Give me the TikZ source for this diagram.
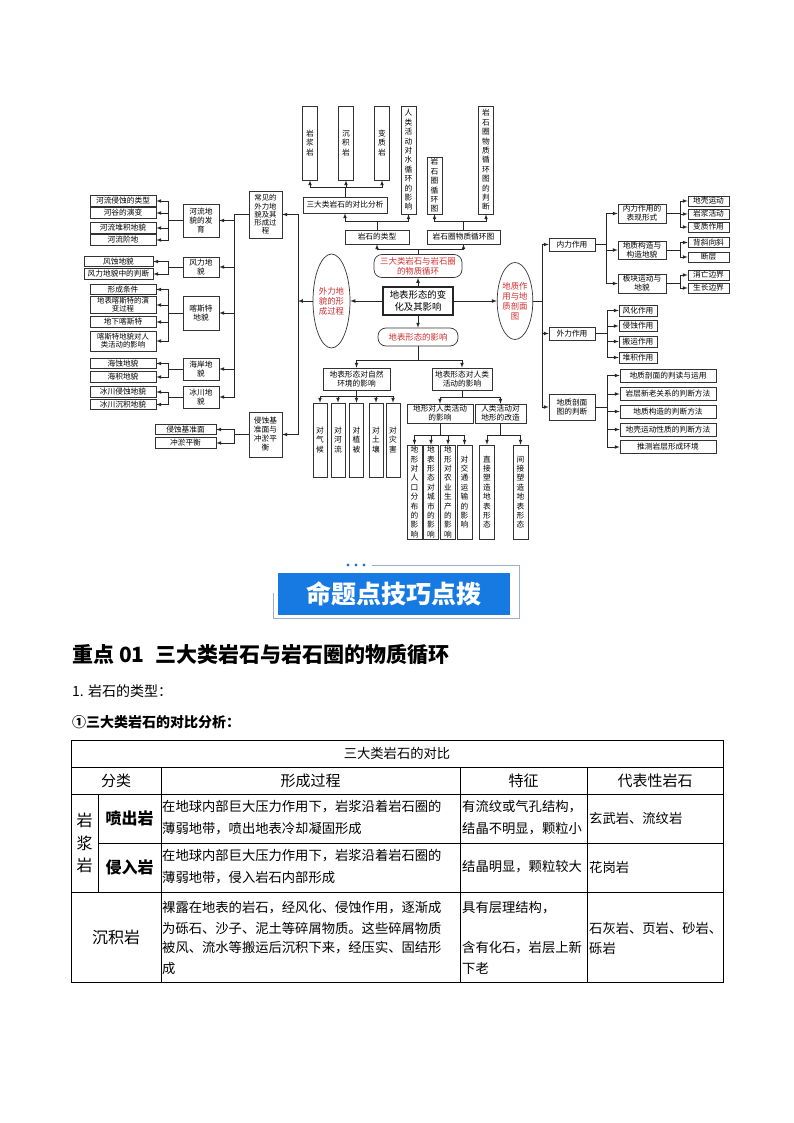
\documentclass[tikz,border=0pt]{standalone}
\usepackage{fontspec}
\setmainfont{Noto Sans CJK SC}
\usetikzlibrary{shapes.geometric,positioning}
\definecolor{redtxt}{RGB}{205,45,45}
\definecolor{bannerblue}{RGB}{22,122,226}
\definecolor{framegray}{RGB}{150,175,205}
\newcommand\mmfont{\fontsize{7.7}{9}\selectfont}
\newcommand\tightfont{\fontsize{7.4}{8.3}\selectfont}
\newcommand\vfont{\fontsize{7.7}{9.4}\selectfont}
\newcommand\redfont{\fontsize{8.4}{10}\selectfont}
\newcommand\tabfont{\fontsize{13.3}{20}\selectfont}
\newcommand\headfont{\fontsize{15}{18}\selectfont}

\begin{document}
\begin{tikzpicture}[x=1pt, y=-1pt, >=latex,
	box/.style={draw=black!80, line width=0.65pt, fill=white, inner sep=0pt, align=center, font=\mmfont},
	vbox/.style={box, font=\vfont, minimum width=15},
	lleaf/.style={box, minimum width=66, minimum height=10.5},
	lmid/.style={box, minimum width=36},
	rleaf/.style={box, minimum width=41, minimum height=10},
	redbox/.style={draw=black!80, line width=0.7pt, rounded corners=8pt, inner sep=0pt, align=center, text=redtxt, font=\redfont},
	oval/.style={ellipse, draw=black!80, line width=0.7pt, inner sep=0pt, align=center, text=redtxt, font=\redfont},
	link/.style={black!85, line width=0.7pt},
	cell/.style={anchor=west, inner sep=0pt, font=\tabfont}]
		\useasboundingbox (0,0) rectangle (794,1123);

		% 1. Top row: rock types
		\node[vbox, minimum height=74] (yanjiang) at (310,143) {岩\\浆\\岩};
		\node[vbox, minimum height=74] (chenji) at (346,143) {沉\\积\\岩};
		\node[vbox, minimum height=74] (bianzhi) at (382,143) {变\\质\\岩};
		\node[vbox, minimum height=108] (renlei) at (408.5,160) {人\\类\\活\\动\\对\\水\\循\\环\\的\\影\\响};
		\node[vbox, minimum height=57] (xhtu) at (434.5,185.5) {岩\\石\\圈\\循\\环\\图};
		\node[vbox, minimum height=108] (panduan) at (486,160) {岩\\石\\圈\\物\\质\\循\\环\\图\\的\\判\\断};
		\node[box, minimum width=84, minimum height=16] (duibi) at (345,205) {三大类岩石的对比分析};
		\node[box, minimum width=64, minimum height=14] (leixing) at (377,237) {岩石的类型};
		\node[box, minimum width=73, minimum height=14] (xunhuan) at (463.5,237) {岩石圈物质循环图};

		\draw[link,->] (duibi.north) -- ++(0,-9) -| (yanjiang.south);
		\draw[link,->] (duibi.north) -- ++(0,-9) -| (chenji.south);
		\draw[link,->] (duibi.north) -- ++(0,-9) -| (bianzhi.south);
		\draw[link,->] (leixing.north) -- ++(0,-8) -| (duibi.south);
		\draw[link,->] (leixing.north) -- ++(0,-8) -| (renlei.south);
		\draw[link,->] (xunhuan.north) -- ++(0,-8) -| (xhtu.south);
		\draw[link,->] (xunhuan.north) -- ++(0,-8) -| (panduan.south);

		% 2. Centre and the four main branches
		\node[redbox, minimum width=88, minimum height=23] (wuzhi) at (418,266) {三大类岩石与岩石圈\\的物质循环};
		\draw[link,->] (wuzhi.north) -- ++(0,-5) -| (leixing.south);
		\draw[link,->] (wuzhi.north) -- ++(0,-5) -| (xunhuan.south);
		\node[box, line width=1.1pt, draw=black!85, font=\fontsize{9.4}{11.5}\selectfont, minimum width=70, minimum height=28] (dibiao) at (418,301) {地表形态的变\\化及其影响};
		\node[redbox, minimum width=80, minimum height=18] (yingxiang) at (418,337) {地表形态的影响};
		\node[oval, minimum width=37, minimum height=94] (waili) at (331.5,301) {外力地\\貌的形\\成过程};
		\node[oval, minimum width=32, minimum height=77] (dizhi) at (515,301) {地质作\\用与地\\质剖面\\图};
		\draw[link,->] (dibiao.north) -- (wuzhi.south);
		\draw[link,->] (dibiao.south) -- (yingxiang.north);
		\draw[link,->] (dibiao.west) -- (waili.east);
		\draw[link,->] (dibiao.east) -- (dizhi.west);

		% 3. Left: external landforms
		\coordinate (ltrunk) at (298,301);
		\draw[link,->] (waili.west) -- (ltrunk);
		\node[box, font=\tightfont, minimum width=33, minimum height=47] (changjian) at (265.5,214.5) {常见的\\外力地\\貌及其\\形成过\\程};
		\node[box, minimum width=33, minimum height=45] (jizhun) at (265.5,434.5) {侵蚀基\\准面与\\冲淤平\\衡};
		\draw[link,->] (ltrunk) |- (changjian.east);
		\draw[link,->] (ltrunk) |- (jizhun.east);

		\node[lmid, minimum height=33] (heliu) at (201,220.5) {河流地\\貌的发\\育};
		\node[lmid, minimum height=20] (fengli) at (201,267) {风力地\\貌};
		\node[lmid, minimum height=34] (kasite) at (201,313) {喀斯特\\地貌};
		\node[lmid, minimum height=22] (haian) at (201,369) {海岸地\\貌};
		\node[lmid, minimum height=22] (bingchuan) at (201,397) {冰川地\\貌};
		\draw[link,->] (changjian.west) -- ++(-14,0) |- (heliu.east);
		\draw[link,->] (changjian.west) -- ++(-14,0) |- (fengli.east);
		\draw[link,->] (changjian.west) -- ++(-14,0) |- (kasite.east);
		\draw[link,->] (changjian.west) -- ++(-14,0) |- (haian.east);
		\draw[link,->] (changjian.west) -- ++(-14,0) |- (bingchuan.east);

		\node[lleaf] (hl1) at (123,201) {河流侵蚀的类型};
		\node[lleaf] (hl2) at (123,213) {河谷的演变};
		\node[lleaf] (hl3) at (123,228) {河流堆积地貌};
		\node[lleaf] (hl4) at (123,240) {河流阶地};
		\draw[link,->] (heliu.west) -- ++(-14,0) |- (hl1.east);
		\draw[link,->] (heliu.west) -- ++(-14,0) |- (hl2.east);
		\draw[link,->] (heliu.west) -- ++(-14,0) |- (hl3.east);
		\draw[link,->] (heliu.west) -- ++(-14,0) |- (hl4.east);

		\node[lleaf, minimum width=69] (fl1) at (118.5,261.5) {风蚀地貌};
		\node[lleaf, minimum width=69] (fl2) at (118.5,274) {风力地貌中的判断};
		\draw[link,->] (fengli.west) -- ++(-14,0) |- (fl1.east);
		\draw[link,->] (fengli.west) -- ++(-14,0) |- (fl2.east);

		\node[lleaf] (ks1) at (123,289.5) {形成条件};
		\node[lleaf, font=\tightfont, minimum height=17] (ks2) at (123,305) {地表喀斯特的演\\变过程};
		\node[lleaf] (ks3) at (123,322) {地下喀斯特};
		\node[lleaf, font=\tightfont, minimum height=20] (ks4) at (123,341) {喀斯特地貌对人\\类活动的影响};
		\draw[link,->] (kasite.west) -- ++(-14,0) |- (ks1.east);
		\draw[link,->] (kasite.west) -- ++(-14,0) |- (ks2.east);
		\draw[link,->] (kasite.west) -- ++(-14,0) |- (ks3.east);
		\draw[link,->] (kasite.west) -- ++(-14,0) |- (ks4.east);

		\node[lleaf] (ha1) at (123,363.5) {海蚀地貌};
		\node[lleaf] (ha2) at (123,377) {海积地貌};
		\draw[link,->] (haian.west) -- ++(-14,0) |- (ha1.east);
		\draw[link,->] (haian.west) -- ++(-14,0) |- (ha2.east);

		\node[lleaf] (bc1) at (123,392) {冰川侵蚀地貌};
		\node[lleaf] (bc2) at (123,404.5) {冰川沉积地貌};
		\draw[link,->] (bingchuan.west) -- ++(-14,0) |- (bc1.east);
		\draw[link,->] (bingchuan.west) -- ++(-14,0) |- (bc2.east);

		\node[lleaf, minimum width=61] (jz1) at (185.5,429.5) {侵蚀基准面};
		\node[lleaf, minimum width=61] (jz2) at (185.5,443) {冲淤平衡};
		\draw[link,->] (jizhun.west) -- ++(-14,0) |- (jz1.east);
		\draw[link,->] (jizhun.west) -- ++(-14,0) |- (jz2.east);

		% 4. Right: geological processes
		\coordinate (rtrunk) at (542,301);
		\draw[link] (dizhi.east) -- (rtrunk);
		\node[box, minimum width=46, minimum height=13] (neili) at (572,244.5) {内力作用};
		\node[box, minimum width=46, minimum height=13] (waizy) at (572,333.5) {外力作用};
		\node[box, minimum width=46, minimum height=26] (poumian) at (572,407) {地质剖面\\图的判断};
		\draw[link,->] (rtrunk) |- (neili.west);
		\draw[link,->] (rtrunk) |- (waizy.west);
		\draw[link,->] (rtrunk) |- (poumian.west);

		\node[box, minimum width=48, minimum height=19] (bx) at (642,213.5) {内力作用的\\表现形式};
		\node[box, minimum width=48, minimum height=18] (gz) at (642,250) {地质构造与\\构造地貌};
		\node[box, minimum width=48, minimum height=19] (bk) at (642,283.5) {板块运动与\\地貌};
		\draw[link,->] (neili.east) -- ++(11,0) |- (bx.west);
		\draw[link,->] (neili.east) -- ++(11,0) |- (gz.west);
		\draw[link,->] (neili.east) -- ++(11,0) |- (bk.west);

		\node[rleaf] (bx1) at (708.5,201) {地壳运动};
		\node[rleaf] (bx2) at (708.5,214) {岩浆活动};
		\node[rleaf] (bx3) at (708.5,227) {变质作用};
		\draw[link,->] (bx.east) -- ++(14,0) |- (bx1.west);
		\draw[link,->] (bx.east) -- ++(14,0) |- (bx2.west);
		\draw[link,->] (bx.east) -- ++(14,0) |- (bx3.west);
		\node[rleaf] (gz1) at (708.5,242.5) {背斜向斜};
		\node[rleaf] (gz2) at (708.5,257) {断层};
		\draw[link,->] (gz.east) -- ++(14,0) |- (gz1.west);
		\draw[link,->] (gz.east) -- ++(14,0) |- (gz2.west);
		\node[rleaf] (bk1) at (708.5,275) {消亡边界};
		\node[rleaf] (bk2) at (708.5,288) {生长边界};
		\draw[link,->] (bk.east) -- ++(14,0) |- (bk1.west);
		\draw[link,->] (bk.east) -- ++(14,0) |- (bk2.west);

		\node[box, minimum width=38, minimum height=11] (wz1) at (638,310.5) {风化作用};
		\node[box, minimum width=38, minimum height=11] (wz2) at (638,326) {侵蚀作用};
		\node[box, minimum width=38, minimum height=11] (wz3) at (638,341.5) {搬运作用};
		\node[box, minimum width=38, minimum height=11] (wz4) at (638,357.5) {堆积作用};
		\draw[link,->] (waizy.east) -- ++(12,0) |- (wz1.west);
		\draw[link,->] (waizy.east) -- ++(12,0) |- (wz2.west);
		\draw[link,->] (waizy.east) -- ++(12,0) |- (wz3.west);
		\draw[link,->] (waizy.east) -- ++(12,0) |- (wz4.west);

		\node[box, minimum width=96, minimum height=13] (pm1) at (668,375.5) {地质剖面的判读与运用};
		\node[box, minimum width=96, minimum height=13] (pm2) at (668,394) {岩层新老关系的判断方法};
		\node[box, minimum width=96, minimum height=13] (pm3) at (668,411.5) {地质构造的判断方法};
		\node[box, minimum width=96, minimum height=13] (pm4) at (668,429.5) {地壳运动性质的判断方法};
		\node[box, minimum width=96, minimum height=13] (pm5) at (668,447) {推测岩层形成环境};
		\draw[link,->] (poumian.east) -- ++(12,0) |- (pm1.west);
		\draw[link,->] (poumian.east) -- ++(12,0) |- (pm2.west);
		\draw[link,->] (poumian.east) -- ++(12,0) |- (pm3.west);
		\draw[link,->] (poumian.east) -- ++(12,0) |- (pm4.west);
		\draw[link,->] (poumian.east) -- ++(12,0) |- (pm5.west);

		% 5. Bottom: effects of landforms
		\node[box, minimum width=67, minimum height=22] (ziran) at (356.5,379) {地表形态对自然\\环境的影响};
		\node[box, minimum width=60, minimum height=22] (renhuo) at (462,379) {地表形态对人类\\活动的影响};
		\draw[link,->] (yingxiang.south) -- ++(0,14) -| (ziran.north);
		\draw[link,->] (yingxiang.south) -- ++(0,14) -| (renhuo.north);

		\node[vbox, minimum width=14, minimum height=74] (zq) at (320,440) {对\\气\\候};
		\node[vbox, minimum width=14, minimum height=74] (zh) at (338,440) {对\\河\\流};
		\node[vbox, minimum width=14, minimum height=74] (zb) at (356.5,440) {对\\植\\被};
		\node[vbox, minimum width=14, minimum height=74] (zt) at (376,440) {对\\土\\壤};
		\node[vbox, minimum width=14, minimum height=74] (zz) at (393,440) {对\\灾\\害};
		\draw[link,->] (ziran.south) -- ++(0,6) -| (zq.north);
		\draw[link,->] (ziran.south) -- ++(0,6) -| (zh.north);
		\draw[link,->] (ziran.south) -- ++(0,6) -| (zb.north);
		\draw[link,->] (ziran.south) -- ++(0,6) -| (zt.north);
		\draw[link,->] (ziran.south) -- ++(0,6) -| (zz.north);

		\node[box, minimum width=66, minimum height=19] (dxd) at (440,413.5) {地形对人类活动\\的影响};
		\node[box, minimum width=51, minimum height=19] (rdd) at (500.5,413.5) {人类活动对\\地形的改造};
		\draw[link,->] (renhuo.south) -- ++(0,7) -| (dxd.north);
		\draw[link,->] (renhuo.south) -- ++(0,7) -| (rdd.north);

		\node[vbox, minimum height=94] (rk) at (414.5,492) {地\\形\\对\\人\\口\\分\\布\\的\\影\\响};
		\node[vbox, minimum height=94] (cs) at (431,492) {地\\表\\形\\态\\对\\城\\市\\的\\影\\响};
		\node[vbox, minimum height=94] (ny) at (448,492) {地\\形\\对\\农\\业\\生\\产\\的\\影\\响};
		\node[vbox, minimum height=94] (jt) at (464.5,492) {对\\交\\通\\运\\输\\的\\影\\响};
		\draw[link,->] (dxd.south) -- ++(0,12) -| (rk.north);
		\draw[link,->] (dxd.south) -- ++(0,12) -| (cs.north);
		\draw[link,->] (dxd.south) -- ++(0,12) -| (ny.north);
		\draw[link,->] (dxd.south) -- ++(0,12) -| (jt.north);

		\node[vbox, minimum height=94] (zj) at (487,492) {直\\接\\塑\\造\\地\\表\\形\\态};
		\node[vbox, minimum height=94] (jj) at (520.5,492) {间\\接\\塑\\造\\地\\表\\形\\态};
		\draw[link,->] (rdd.south) -- ++(0,12) -| (zj.north);
		\draw[link,->] (rdd.south) -- ++(0,12) -| (jj.north);

		% 6. Banner
		\draw[framegray, line width=0.8pt] (372,565) -- (519,565) -- (519,618) -- (273,618) -- (273,593);
		\fill[bannerblue] (348,565) circle (1.6) (356,565) circle (1.6) (364,565) circle (1.6);
		\node[fill=bannerblue, text=white, minimum width=232, minimum height=42, inner sep=0pt, font=\fontsize{25}{30}\selectfont\bfseries] (banner) at (394,594) {命题点技巧点拨};

		% 7. Headings
		\node[anchor=west, inner sep=0pt, font=\fontsize{21}{24}\selectfont\bfseries] (zhongdian) at (72,655) {重点 01\enspace 三大类岩石与岩石圈的物质循环};
		\node[anchor=west, inner sep=0pt, font=\fontsize{14}{17}\selectfont] (yanshi) at (72,691) {1. 岩石的类型：};
		\node[anchor=west, inner sep=0pt, font=\fontsize{14}{17}\selectfont\bfseries] (duibifx) at (72,722) {①三大类岩石的对比分析：};

		% 8. Table
		\draw[line width=0.8pt] (71,740) rectangle (723,982);
		\draw[line width=0.7pt] (71,767) -- (723,767) (71,794) -- (723,794) (98,843) -- (723,843) (71,892) -- (723,892);
		\draw[line width=0.7pt] (98,794) -- (98,892) (161,767) -- (161,982) (460,767) -- (460,982) (587,767) -- (587,982);

		\node[font=\tabfont] (tt) at (397,753.5) {三大类岩石的对比};
		\node[font=\headfont] (h1) at (116,780.5) {分类};
		\node[font=\headfont] (h2) at (310.5,780.5) {形成过程};
		\node[font=\headfont] (h3) at (523.5,780.5) {特征};
		\node[font=\headfont] (h4) at (655,780.5) {代表性岩石};
		\node[font=\fontsize{16}{22.5}\selectfont, align=center, inner sep=0pt] (yj) at (84.5,843) {岩\\浆\\岩};
		\node[font=\fontsize{16}{19}\selectfont\bfseries] (pc) at (129.5,818) {喷出岩};
		\node[font=\fontsize{16}{19}\selectfont\bfseries] (qr) at (129.5,867) {侵入岩};
		\node[font=\fontsize{16}{19}\selectfont] (cj) at (116,937) {沉积岩};

		\node[cell] (p1a) at (162,807) {在地球内部巨大压力作用下，岩浆沿着岩石圈的};
		\node[cell] (p1b) at (162,829) {薄弱地带，喷出地表冷却凝固形成};
		\node[cell] (p2a) at (162,856) {在地球内部巨大压力作用下，岩浆沿着岩石圈的};
		\node[cell] (p2b) at (162,878) {薄弱地带，侵入岩石内部形成};
		\node[cell] (p3a) at (162,908) {裸露在地表的岩石，经风化、侵蚀作用，逐渐成};
		\node[cell] (p3b) at (162,928) {为砾石、沙子、泥土等碎屑物质。这些碎屑物质};
		\node[cell] (p3c) at (162,948) {被风、流水等搬运后沉积下来，经压实、固结形};
		\node[cell] (p3d) at (162,968) {成};
		\node[cell] (t1a) at (462,807) {有流纹或气孔结构，};
		\node[cell] (t1b) at (462,829) {结晶不明显，颗粒小};
		\node[cell] (t2) at (462,867) {结晶明显，颗粒较大};
		\node[cell] (t3a) at (462,908) {具有层理结构，};
		\node[cell] (t3b) at (462,948) {含有化石，岩层上新};
		\node[cell] (t3c) at (462,968) {下老};
		\node[cell] (r1) at (589,818) {玄武岩、流纹岩};
		\node[cell] (r2) at (589,867) {花岗岩};
		\node[cell] (r3a) at (589,928) {石灰岩、页岩、砂岩、};
		\node[cell] (r3b) at (589,948) {砾岩};
	\end{tikzpicture}
\end{document}
